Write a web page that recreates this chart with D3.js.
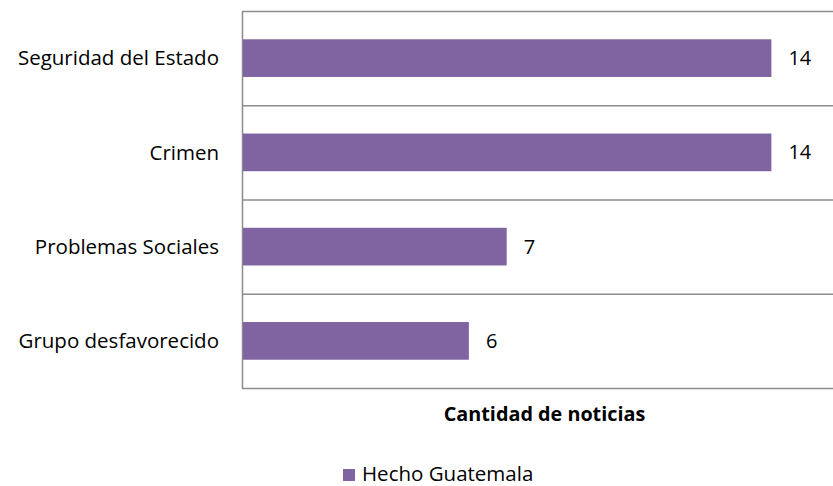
<html>
<head>
<meta charset="utf8">
<style>
  body { margin: 0; background: #fff; }
  text { font-family: "Open Sans", Lato, sans-serif; fill: #000; }
</style>
</head>
<body>
<div id="canvas"></div>
<script src="https://cdn.jsdelivr.net/npm/d3@7"></script>
<script>

const categories = ['Seguridad del Estado', 'Crimen', 'Problemas Sociales', 'Grupo desfavorecido'];
const values = [14, 14, 7, 6];
const seriesName = 'Hecho Guatemala';
const axisTitle = 'Cantidad de noticias';

const width = 833, height = 486;
const plotLeft = 242, plotRight = 847, plotTop = 11, plotBottom = 388;

const svg = d3.select('#canvas').append('svg')
    .attr('width', width)
    .attr('height', height)
    .attr('viewBox', `0 0 ${width} ${height}`);

const x = d3.scaleLinear().domain([0, 16]).range([plotLeft, plotRight]);
const y = d3.scaleBand().domain(categories).range([plotTop, plotBottom])
    .paddingInner(0.6).paddingOuter(0.3);

// category separators (Excel draws them as gridlines)
const step = y.step();
const seps = d3.range(categories.length + 1).map(i => plotTop + i * step);
svg.selectAll('line.sep').data(seps).enter().append('line')
    .attr('x1', plotLeft).attr('x2', plotRight)
    .attr('y1', d => d + 0.5).attr('y2', d => d + 0.5)
    .attr('stroke', '#8c8c8c').attr('stroke-width', 1.5);

// left axis
svg.append('line')
    .attr('x1', plotLeft + 0.5).attr('x2', plotLeft + 0.5)
    .attr('y1', plotTop).attr('y2', plotBottom + 1)
    .attr('stroke', '#8c8c8c').attr('stroke-width', 1.5);

const color = '#8064a2';

svg.selectAll('rect.bar').data(values).enter().append('rect')
    .attr('x', x(0) + 1)
    .attr('y', (d, i) => y(categories[i]))
    .attr('width', d => x(d) - x(0) - 1)
    .attr('height', y.bandwidth())
    .attr('fill', color);

svg.selectAll('text.val').data(values).enter().append('text')
    .attr('x', d => x(d) + 17)
    .attr('y', (d, i) => y(categories[i]) + y.bandwidth() / 2)
    .attr('dy', '0.35em')
    .attr('font-size', '20px')
    .text(d => d);

svg.selectAll('text.cat').data(categories).enter().append('text')
    .attr('x', 219)
    .attr('y', d => y(d) + y.bandwidth() / 2)
    .attr('dy', '0.35em')
    .attr('text-anchor', 'end')
    .attr('font-size', '20.5px')
    .text(d => d);

svg.append('text')
    .attr('x', (plotLeft + plotRight) / 2)
    .attr('y', 421)
    .attr('text-anchor', 'middle')
    .attr('font-size', '19.8px')
    .attr('font-weight', 'bold')
    .text(axisTitle);

// legend
svg.append('rect')
    .attr('x', 343).attr('y', 469).attr('width', 12).attr('height', 12)
    .attr('fill', color);
svg.append('text')
    .attr('x', 362).attr('y', 481)
    .attr('font-size', '20.5px')
    .text(seriesName);
</script>

</body>
</html>
